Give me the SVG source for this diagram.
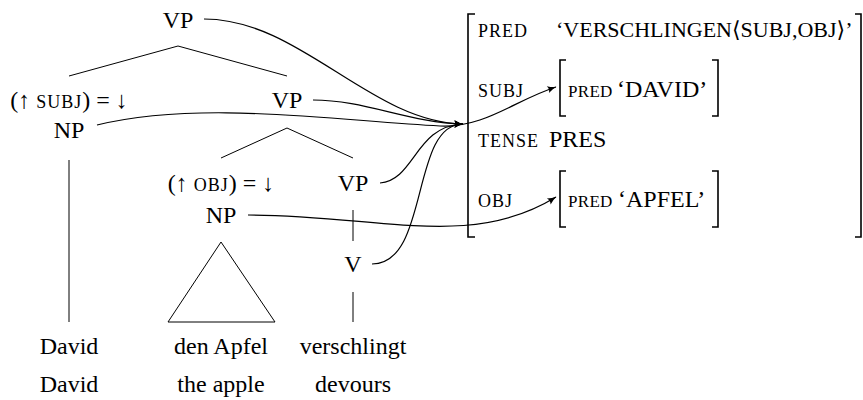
<svg xmlns="http://www.w3.org/2000/svg" width="863" height="400" viewBox="0 0 863 400" font-family="'Liberation Serif', 'Times New Roman', 'DejaVu Serif', serif">
<defs>
<style>
text{font-family:'Liberation Serif','Times New Roman','DejaVu Serif',serif;font-size:24px;fill:#000}
.m{text-anchor:middle}
.sc{font-size:18px;letter-spacing:1px}
.sci{font-size:17px;letter-spacing:0.3px}
.edge{stroke:#000;stroke-width:1;fill:none}
.map{stroke:#000;stroke-width:1.2;fill:none;marker-end:url(#ah)}
.br{stroke:#000;stroke-width:1.6;fill:none}
</style>
<marker id="ah" viewBox="0 0 10 10" refX="9.5" refY="5" markerUnits="userSpaceOnUse" markerWidth="10" markerHeight="9" orient="auto">
<path d="M0,1 Q5,4 10,5 Q5,6 0,9 Q2.5,5 0,1 Z" fill="#000"/>
</marker>
</defs>
<rect width="863" height="400" fill="#fff"/>

<g id="tree-edges">
<path class="edge" d="M69,76 L178,46 L287,76"/>
<path class="edge" d="M221,158 L287,128 L353,158"/>
<path class="edge" d="M69,160 V322"/>
<path class="edge" d="M221,242 L168,322 H275 Z"/>
<path class="edge" d="M353,210 V241 M353,292 V322"/>
</g>

<g id="vp-top"><text class="m" x="178" y="28">VP</text></g>
<g id="np-subj">
<text class="m" x="69" y="108">(↑ <tspan class="sc">SUBJ</tspan>) = ↓</text>
<text class="m" x="69" y="138">NP</text>
</g>
<g id="vp-mid"><text class="m" x="287" y="108">VP</text></g>
<g id="np-obj">
<text class="m" x="221" y="191">(↑ <tspan class="sc">OBJ</tspan>) = ↓</text>
<text class="m" x="221" y="223">NP</text>
</g>
<g id="vp-low"><text class="m" x="353" y="191">VP</text></g>
<g id="v"><text class="m" x="353" y="272">V</text></g>

<g id="words">
<text class="m" x="69" y="354">David</text>
<text class="m" x="221" y="354">den Apfel</text>
<text class="m" x="353" y="354">verschlingt</text>
<text class="m" x="69" y="392">David</text>
<text class="m" x="221" y="392">the apple</text>
<text class="m" x="353" y="392">devours</text>
</g>

<g id="fstructure">
<path class="br" d="M475,14 H468 V237 H475"/>
<path class="br" d="M855,14 H861 V237 H855"/>
<text class="sc" x="478" y="37">PRED</text>
<text x="556" y="37" style="font-size:22px">‘VERSCHLINGEN⟨SUBJ,OBJ⟩’</text>
<text class="sc" x="478" y="97">SUBJ</text>
<g id="f-subj">
<path class="br" d="M566,60 H560 V116 H566"/>
<path class="br" d="M712,60 H718 V116 H712"/>
<text class="sci" x="568" y="97">PRED</text>
<text x="617" y="97">‘DAVID’</text>
</g>
<text class="sc" x="478" y="147">TENSE</text>
<text x="549" y="147">PRES</text>
<text class="sc" x="478" y="207">OBJ</text>
<g id="f-obj">
<path class="br" d="M566,171 H560 V227 H566"/>
<path class="br" d="M712,171 H718 V227 H712"/>
<text class="sci" x="568" y="207">PRED</text>
<text x="618" y="207">‘APFEL’</text>
</g>
</g>

<g id="connectors">
<path class="map" d="M204,19 C300,19 370,122 463,124"/>
<path class="map" d="M313,100 C365,100 410,123 463,124"/>
<path class="map" d="M380,183 C415,180 415,126 463,124"/>
<path class="map" d="M372,264 C430,264 410,124 463,124"/>
<path class="map" d="M97,125 C200,100 330,120 440,126 C485,128 515,100 556,87"/>
<path class="map" d="M248,215 C380,215 470,250 556,197"/>
</g>
</svg>
